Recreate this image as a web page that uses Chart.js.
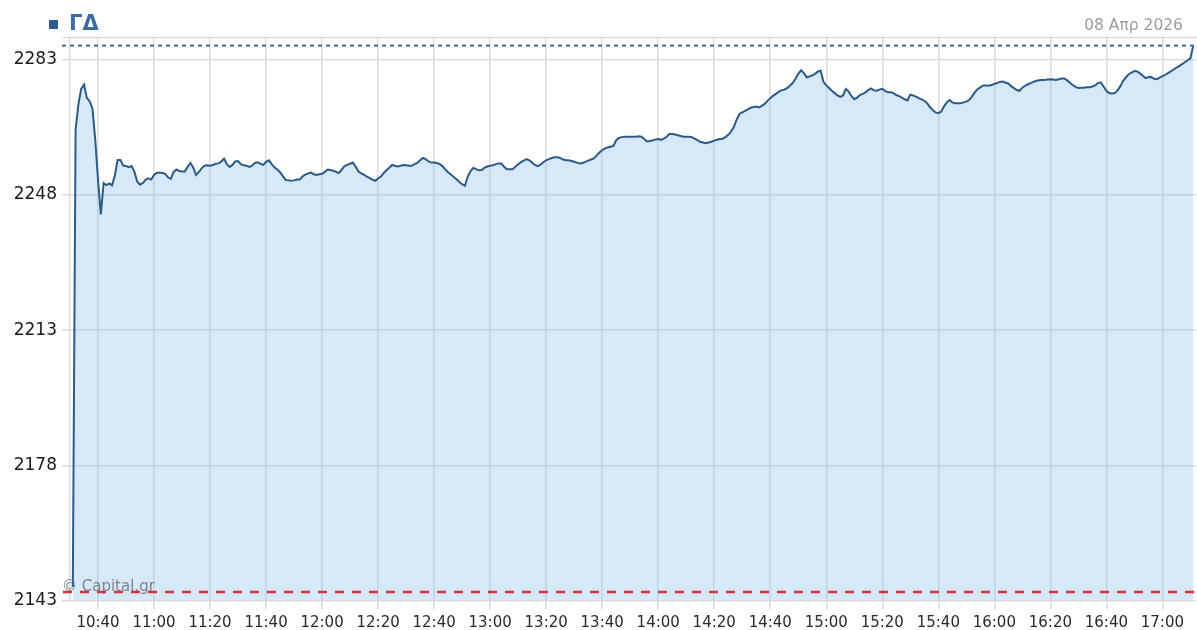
<!DOCTYPE html>
<html>
<head>
<meta charset="utf-8">
<script src="https://cdn.jsdelivr.net/npm/chart.js@4/dist/chart.umd.min.js"></script>
<style>
html,body{margin:0;padding:0;background:#fff;}
#wrap{position:relative;width:1197px;height:630px;overflow:hidden;}
#chart{position:absolute;left:0;top:0;}
#title{position:absolute;left:49px;top:8px;height:30px;font:bold 21px "DejaVu Sans";color:#3a6ba3;line-height:30px;white-space:nowrap;}
#title .sq{display:inline-block;width:9px;height:9px;background:#2d5b8e;margin-right:11px;vertical-align:1px;}
#date{position:absolute;right:14px;top:15px;font:15.5px "DejaVu Sans";color:#9c9c9c;line-height:20px;white-space:nowrap;}
#mark{position:absolute;left:62px;top:577px;font:15px "DejaVu Sans";color:rgba(105,105,105,0.8);line-height:18px;white-space:nowrap;}
</style>
</head>
<body>
<div id="wrap">
<canvas id="chart" width="1197" height="630"></canvas>
<div id="title"><span class="sq"></span>ΓΔ</div>
<div id="date">08 Απρ 2026</div>
<div id="mark">© Capital.gr</div>
</div>
<script>
const seriesName = 'ΓΔ';
const dateLabel = '08 Απρ 2026';

const times = (
'10:31 10:32 10:33 10:34 10:35 10:36 10:37 10:38 10:39 10:40 ' +
'10:41 10:42 10:43 10:44 10:45 10:46 10:47 10:48 10:49 10:50 ' +
'10:51 10:52 10:53 10:54 10:55 10:56 10:57 10:58 10:59 11:00 ' +
'11:01 11:02 11:03 11:04 11:05 11:06 11:07 11:08 11:09 11:10 ' +
'11:11 11:12 11:13 11:14 11:15 11:16 11:17 11:18 11:19 11:20 ' +
'11:21 11:22 11:23 11:24 11:25 11:26 11:27 11:28 11:29 11:30 ' +
'11:31 11:32 11:33 11:34 11:35 11:36 11:37 11:38 11:39 11:40 ' +
'11:41 11:42 11:43 11:44 11:45 11:46 11:47 11:48 11:49 11:50 ' +
'11:51 11:52 11:53 11:54 11:55 11:56 11:57 11:58 11:59 12:00 ' +
'12:01 12:02 12:03 12:04 12:05 12:06 12:07 12:08 12:09 12:10 ' +
'12:11 12:12 12:13 12:14 12:15 12:16 12:17 12:18 12:19 12:20 ' +
'12:21 12:22 12:23 12:24 12:25 12:26 12:27 12:28 12:29 12:30 ' +
'12:31 12:32 12:33 12:34 12:35 12:36 12:37 12:38 12:39 12:40 ' +
'12:41 12:42 12:43 12:44 12:45 12:46 12:47 12:48 12:49 12:50 ' +
'12:51 12:52 12:53 12:54 12:55 12:56 12:57 12:58 12:59 13:00 ' +
'13:01 13:02 13:03 13:04 13:05 13:06 13:07 13:08 13:09 13:10 ' +
'13:11 13:12 13:13 13:14 13:15 13:16 13:17 13:18 13:19 13:20 ' +
'13:21 13:22 13:23 13:24 13:25 13:26 13:27 13:28 13:29 13:30 ' +
'13:31 13:32 13:33 13:34 13:35 13:36 13:37 13:38 13:39 13:40 ' +
'13:41 13:42 13:43 13:44 13:45 13:46 13:47 13:48 13:49 13:50 ' +
'13:51 13:52 13:53 13:54 13:55 13:56 13:57 13:58 13:59 14:00 ' +
'14:01 14:02 14:03 14:04 14:05 14:06 14:07 14:08 14:09 14:10 ' +
'14:11 14:12 14:13 14:14 14:15 14:16 14:17 14:18 14:19 14:20 ' +
'14:21 14:22 14:23 14:24 14:25 14:26 14:27 14:28 14:29 14:30 ' +
'14:31 14:32 14:33 14:34 14:35 14:36 14:37 14:38 14:39 14:40 ' +
'14:41 14:42 14:43 14:44 14:45 14:46 14:47 14:48 14:49 14:50 ' +
'14:51 14:52 14:53 14:54 14:55 14:56 14:57 14:58 14:59 15:00 ' +
'15:01 15:02 15:03 15:04 15:05 15:06 15:07 15:08 15:09 15:10 ' +
'15:11 15:12 15:13 15:14 15:15 15:16 15:17 15:18 15:19 15:20 ' +
'15:21 15:22 15:23 15:24 15:25 15:26 15:27 15:28 15:29 15:30 ' +
'15:31 15:32 15:33 15:34 15:35 15:36 15:37 15:38 15:39 15:40 ' +
'15:41 15:42 15:43 15:44 15:45 15:46 15:47 15:48 15:49 15:50 ' +
'15:51 15:52 15:53 15:54 15:55 15:56 15:57 15:58 15:59 16:00 ' +
'16:01 16:02 16:03 16:04 16:05 16:06 16:07 16:08 16:09 16:10 ' +
'16:11 16:12 16:13 16:14 16:15 16:16 16:17 16:18 16:19 16:20 ' +
'16:21 16:22 16:23 16:24 16:25 16:26 16:27 16:28 16:29 16:30 ' +
'16:31 16:32 16:33 16:34 16:35 16:36 16:37 16:38 16:39 16:40 ' +
'16:41 16:42 16:43 16:44 16:45 16:46 16:47 16:48 16:49 16:50 ' +
'16:51 16:52 16:53 16:54 16:55 16:56 16:57 16:58 16:59 17:00 ' +
'17:01 17:02 17:03 17:04 17:05 17:06 17:07 17:08 17:09 17:10 ' +
'17:11').split(' ');

const values = [
2146.5, 2265, 2271.5, 2275.5, 2276.6, 2273.2, 2272.3, 2270.5, 2262.5, 2252,
2243, 2251.1, 2250.6, 2251, 2250.5, 2253, 2257.1, 2257.1, 2255.6, 2255.5,
2255.2, 2255.5, 2254, 2251.5, 2250.7, 2251.1, 2252, 2252.3, 2252, 2253.2,
2253.8, 2253.8, 2253.7, 2253.5, 2252.6, 2252.2, 2254, 2254.6, 2254.2, 2254.1,
2254.1, 2255.3, 2256.3, 2255.1, 2253.2, 2254, 2254.9, 2255.6, 2255.7, 2255.6,
2255.8, 2256.1, 2256.2, 2256.7, 2257.4, 2256, 2255.3, 2255.8, 2256.7, 2256.8,
2256, 2255.7, 2255.6, 2255.3, 2255.6, 2256.3, 2256.5, 2256.1, 2255.8, 2256.6,
2257, 2256, 2255.2, 2254.6, 2253.9, 2252.9, 2251.9, 2251.8, 2251.7, 2251.8,
2252, 2252, 2252.8, 2253.3, 2253.6, 2253.8, 2253.4, 2253.2, 2253.4, 2253.5,
2254, 2254.6, 2254.5, 2254.3, 2254, 2253.7, 2254.6, 2255.5, 2255.8, 2256.1,
2256.4, 2255.3, 2254.1, 2253.6, 2253.2, 2252.8, 2252.4, 2252, 2251.7, 2252.3,
2252.8, 2253.7, 2254.4, 2255.1, 2255.8, 2255.6, 2255.4, 2255.6, 2255.8, 2255.7,
2255.6, 2255.6, 2256, 2256.3, 2257, 2257.6, 2257.3, 2256.7, 2256.4, 2256.4,
2256.3, 2256, 2255.5, 2254.6, 2253.9, 2253.3, 2252.7, 2252.1, 2251.4, 2250.8,
2250.4, 2252.8, 2254.2, 2255, 2254.7, 2254.4, 2254.5, 2255.1, 2255.4, 2255.6,
2255.7, 2256, 2256.2, 2256.2, 2255.3, 2254.7, 2254.7, 2254.7, 2255.3, 2256,
2256.5, 2256.9, 2257.3, 2257, 2256.4, 2255.8, 2255.5, 2255.9, 2256.5, 2257,
2257.3, 2257.6, 2257.8, 2257.8, 2257.6, 2257.2, 2257, 2257, 2256.8, 2256.6,
2256.4, 2256.2, 2256.3, 2256.6, 2256.9, 2257.2, 2257.5, 2258.2, 2259, 2259.6,
2260.1, 2260.3, 2260.5, 2260.7, 2262.2, 2262.8, 2263, 2263.1, 2263.1, 2263.1,
2263.1, 2263.1, 2263.2, 2263.1, 2262.5, 2261.9, 2262, 2262.1, 2262.4, 2262.5,
2262.3, 2262.6, 2263.1, 2263.8, 2263.8, 2263.7, 2263.5, 2263.3, 2263.1, 2263.1,
2263.1, 2263, 2262.6, 2262.2, 2261.8, 2261.6, 2261.4, 2261.6, 2261.8, 2262.1,
2262.3, 2262.5, 2262.6, 2263, 2263.6, 2264.4, 2265.6, 2267.5, 2269, 2269.4,
2269.8, 2270.2, 2270.6, 2270.8, 2270.9, 2270.7, 2271.1, 2271.6, 2272.4, 2273.1,
2273.7, 2274.2, 2274.7, 2275.1, 2275.3, 2275.7, 2276.3, 2277, 2278.1, 2279.4,
2280.3, 2279.6, 2278.5, 2278.7, 2279, 2279.4, 2280, 2280.2, 2277.3, 2276.4,
2275.7, 2275, 2274.4, 2273.8, 2273.4, 2273.8, 2275.5, 2274.8, 2273.6, 2272.8,
2273.2, 2273.9, 2274.2, 2274.6, 2275.2, 2275.6, 2275.1, 2275, 2275.3, 2275.5,
2275, 2274.6, 2274.6, 2274.4, 2273.9, 2273.6, 2273.2, 2272.8, 2272.5, 2274,
2273.8, 2273.5, 2273.1, 2272.8, 2272.4, 2271.8, 2270.8, 2270, 2269.4, 2269.2,
2269.6, 2270.9, 2272, 2272.6, 2272, 2271.8, 2271.8, 2271.8, 2272, 2272.2,
2272.6, 2273.5, 2274.6, 2275.4, 2275.9, 2276.4, 2276.4, 2276.3, 2276.5, 2276.8,
2277, 2277.3, 2277.4, 2277.1, 2276.9, 2276.2, 2275.7, 2275.2, 2275, 2275.8,
2276.3, 2276.7, 2277, 2277.3, 2277.6, 2277.7, 2277.8, 2277.8, 2277.9, 2278,
2277.9, 2277.8, 2278, 2278.2, 2278.2, 2277.7, 2277.1, 2276.5, 2276, 2275.7,
2275.8, 2275.8, 2275.9, 2275.9, 2276.1, 2276.4, 2277, 2277.2, 2276.1, 2275,
2274.4, 2274.3, 2274.4, 2275.1, 2276.2, 2277.6, 2278.5, 2279.3, 2279.7, 2280.1,
2280, 2279.5, 2278.9, 2278.3, 2278.5, 2278.6, 2278.1, 2278, 2278.4, 2278.8,
2279.1, 2279.6, 2280, 2280.5, 2281, 2281.4, 2281.9, 2282.4, 2282.9, 2283.4,
2286.7
];

const xTickLabels = ['10:40','11:00','11:20','11:40','12:00','12:20','12:40','13:00','13:20','13:40',
  '14:00','14:20','14:40','15:00','15:20','15:40','16:00','16:20','16:40','17:00'];
const yTickValues = [2143, 2178, 2213, 2248, 2283];
const prevClose = 2145.2;
const axisStart = '10:30';
const axisEnd = '17:12';
const yMin = 2143;
const yMax = 2288.8;

function toMin(s){ const p = s.split(':'); return (+p[0]) * 60 + (+p[1]); }
const points = times.map((t, i) => ({ x: toMin(t), y: values[i] }));
const lastValue = values[values.length - 1];

const GRID = '#dcdcdc';

const refLines = {
  id: 'refLines',
  beforeDatasetsDraw(chart) {
    const { ctx, chartArea: a } = chart;
    ctx.save();
    ctx.strokeStyle = GRID;
    ctx.lineWidth = 1.5;
    ctx.beginPath();
    ctx.moveTo(a.left - 8, a.top);
    ctx.lineTo(chart.width, a.top);
    ctx.stroke();
    ctx.restore();
  },
  afterDatasetsDraw(chart) {
    const { ctx, chartArea: a, scales } = chart;
    const y = scales.y;
    ctx.save();
    ctx.strokeStyle = '#3f6a99';
    ctx.lineWidth = 2;
    ctx.setLineDash([4, 4]);
    let py = y.getPixelForValue(lastValue);
    ctx.beginPath();
    ctx.moveTo(a.left - 8, py);
    ctx.lineTo(chart.width, py);
    ctx.stroke();
    ctx.strokeStyle = '#d8333a';
    ctx.lineWidth = 2.5;
    ctx.setLineDash([9, 8]);
    py = y.getPixelForValue(prevClose);
    ctx.beginPath();
    ctx.moveTo(a.left - 7, py);
    ctx.lineTo(chart.width, py);
    ctx.stroke();
    ctx.restore();
  }
};

new Chart(document.getElementById('chart'), {
  type: 'line',
  data: {
    datasets: [{
      label: seriesName,
      data: points,
      borderColor: '#2c5b8a',
      borderWidth: 2,
      backgroundColor: 'rgba(140,190,235,0.35)',
      fill: 'start',
      pointRadius: 0,
      tension: 0
    }]
  },
  options: {
    responsive: false,
    animation: false,
    events: [],
    layout: { padding: { top: 37.5, right: 1, left: 0, bottom: 0 } },
    plugins: { legend: { display: false }, tooltip: { enabled: false }, title: { display: false } },
    scales: {
      x: {
        type: 'linear',
        min: toMin(axisStart),
        max: toMin(axisEnd),
        afterBuildTicks(scale) { scale.ticks = xTickLabels.map(l => ({ value: toMin(l) })); },
        afterFit(scale) { scale.height = 29.5; },
        ticks: {
          autoSkip: false, maxRotation: 0, padding: 5,
          font: { family: 'DejaVu Sans', size: 15 }, color: '#2a2a2a',
          callback: (v, i) => xTickLabels[i]
        },
        grid: { color: GRID, lineWidth: 1.5, tickLength: 9, drawTicks: true },
        border: { display: false }
      },
      y: {
        type: 'linear',
        min: yMin,
        max: yMax,
        afterBuildTicks(scale) { scale.ticks = yTickValues.map(v => ({ value: v })); },
        afterFit(scale) { scale.width = 70; },
        ticks: {
          padding: 5,
          font: { family: 'DejaVu Sans', size: 17 }, color: '#1a1a1a',
          callback: (v) => String(v)
        },
        grid: { color: GRID, lineWidth: 1.5, tickLength: 8, drawTicks: true },
        border: { display: true, color: GRID, width: 1.5 }
      }
    }
  },
  plugins: [refLines]
});
</script>
</body>
</html>
